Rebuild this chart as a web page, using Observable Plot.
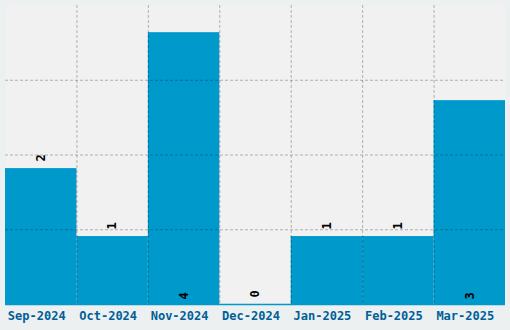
<!DOCTYPE html>
<html>
<head>
<meta charset="utf-8">
<script src="https://cdn.jsdelivr.net/npm/d3@7"></script>
<script src="https://cdn.jsdelivr.net/npm/@observablehq/plot@0.6"></script>
<style>
  html, body { margin: 0; padding: 0; background: #ecf0f1; }
  #chart svg { display: block; }
</style>
</head>
<body>
<div id="chart"></div>
<script>
const months = ["Sep-2024", "Oct-2024", "Nov-2024", "Dec-2024", "Jan-2025", "Feb-2025", "Mar-2025"];
const counts = [2, 1, 4, 0, 1, 1, 3];
const yGrid = [1.1, 2.2, 3.3];
const yMax = 4.4;
const insideThreshold = 3;

const data = months.map((m, i) => ({i, month: m, value: counts[i]}));
const boundaries = months.slice(1).map((m, i) => i + 0.5);

const barColor = "#0099cc";
const font = "'DejaVu Sans Mono', monospace";

const chart = Plot.plot({
  width: 510,
  height: 330,
  marginLeft: 5,
  marginRight: 5,
  marginTop: 5,
  marginBottom: 26,
  style: {background: "#ecf0f1", fontFamily: font},
  x: {type: "linear", domain: [-0.5, months.length - 0.5], axis: null},
  y: {domain: [0, yMax], axis: null},
  marks: [
    Plot.frame({fill: "#f1f1f1", stroke: null}),
    Plot.rectY(data, {x1: d => d.i - 0.5, x2: d => d.i + 0.5, y1: 0, y2: "value", fill: barColor}),
    Plot.ruleY([0], {stroke: barColor, strokeWidth: 1.5}),
    Plot.ruleY(yGrid, {stroke: "#000", strokeOpacity: 0.27, strokeDasharray: "3,2"}),
    Plot.ruleX(boundaries, {stroke: "#000", strokeOpacity: 0.27, strokeDasharray: "3,2"}),
    Plot.text(data.filter(d => d.value < insideThreshold), {
      x: "i", y: "value", text: d => String(d.value),
      rotate: -90, textAnchor: "start", dy: -7,
      fontSize: 12, fontWeight: "bold", fill: "#000", fontFamily: font
    }),
    Plot.text(data.filter(d => d.value >= insideThreshold), {
      x: "i", y: 0, text: d => String(d.value),
      rotate: -90, textAnchor: "start", dy: -5,
      fontSize: 12, fontWeight: "bold", fill: "#000", fontFamily: font
    }),
    Plot.axisX(months.map((m, i) => i), {
      tickFormat: i => months[i], tickSize: 0, tickPadding: 6.5,
      fontSize: 12, fontWeight: "bold", fill: "#005f99", dx: -4.5,
      fontFamily: font, label: null
    })
  ]
});
document.getElementById("chart").appendChild(chart);
</script>
</body>
</html>
